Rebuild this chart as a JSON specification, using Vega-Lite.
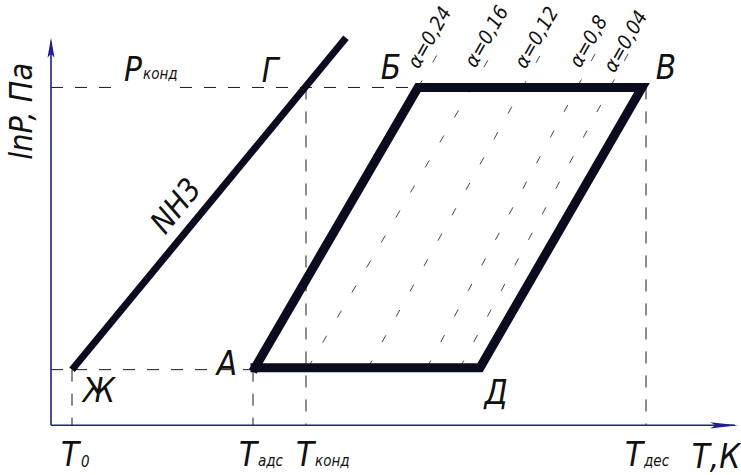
{
  "$schema": "https://vega.github.io/schema/vega-lite/v6.json",
  "width": 741,
  "height": 475,
  "autosize": {"type": "fit", "contains": "padding"},
  "padding": 0,
  "background": "white",
  "view": {"stroke": null},
  "config": {
    "text": {"font": "'DejaVu Sans Condensed', 'Liberation Sans Narrow', 'Roboto Condensed', 'DejaVu Sans', sans-serif", "fontStyle": "italic", "color": "#111111"}
  },
  "datasets": {
    "cycle": [
      {"seg": "АБВД", "i": 0, "x": 204, "y": 58},
      {"seg": "АБВД", "i": 1, "x": 367, "y": 340},
      {"seg": "АБВД", "i": 2, "x": 591, "y": 340},
      {"seg": "АБВД", "i": 3, "x": 429, "y": 58},
      {"seg": "АБВД", "i": 4, "x": 204, "y": 58}
    ],
    "nh3": [
      {"seg": "NH3", "i": 0, "x": 21, "y": 56},
      {"seg": "NH3", "i": 1, "x": 295, "y": 390}
    ],
    "guides": [
      {"seg": "Pконд-1", "i": 0, "x": 0, "y": 340},
      {"seg": "Pконд-1", "i": 1, "x": 69, "y": 340},
      {"seg": "Pконд-2", "i": 0, "x": 129, "y": 340},
      {"seg": "Pконд-2", "i": 1, "x": 367, "y": 340},
      {"seg": "P0", "i": 0, "x": 0, "y": 56},
      {"seg": "P0", "i": 1, "x": 202, "y": 56},
      {"seg": "T0", "i": 0, "x": 21, "y": 56},
      {"seg": "T0", "i": 1, "x": 21, "y": 0},
      {"seg": "Tадс", "i": 0, "x": 202, "y": 56},
      {"seg": "Tадс", "i": 1, "x": 202, "y": 0},
      {"seg": "Tконд", "i": 0, "x": 255, "y": 340},
      {"seg": "Tконд", "i": 1, "x": 255, "y": 0},
      {"seg": "Tдес", "i": 0, "x": 595, "y": 340},
      {"seg": "Tдес", "i": 1, "x": 595, "y": 0}
    ],
    "isosteres": [
      {"seg": "α=0,24", "i": 0, "x": 367, "y": 340},
      {"seg": "α=0,24", "i": 1, "x": 392, "y": 383},
      {"seg": "α=0,16", "i": 0, "x": 257, "y": 58},
      {"seg": "α=0,16", "i": 1, "x": 446, "y": 383},
      {"seg": "α=0,12", "i": 0, "x": 317, "y": 58},
      {"seg": "α=0,12", "i": 1, "x": 495, "y": 383},
      {"seg": "α=0,8", "i": 0, "x": 376, "y": 58},
      {"seg": "α=0,8", "i": 1, "x": 549, "y": 383},
      {"seg": "α=0,04", "i": 0, "x": 409, "y": 58},
      {"seg": "α=0,04", "i": 1, "x": 582, "y": 383}
    ],
    "axes": [
      {"seg": "lnP", "i": 0, "x": 0, "y": 0},
      {"seg": "lnP", "i": 1, "x": 0, "y": 386},
      {"seg": "T", "i": 0, "x": 0, "y": 0},
      {"seg": "T", "i": 1, "x": 684, "y": 0}
    ],
    "arrowUp": [{"x": 0, "y": 380}],
    "arrowRight": [{"x": 673, "y": 0}],
    "points": [
      {"label": "P", "x": 82, "y": 346},
      {"label": "Г", "x": 219, "y": 345},
      {"label": "Б", "x": 340, "y": 348},
      {"label": "В", "x": 615, "y": 348},
      {"label": "А", "x": 176, "y": 51},
      {"label": "Ж", "x": 48, "y": 23},
      {"label": "Д", "x": 445, "y": 21},
      {"label": "Т", "x": 19, "y": -41},
      {"label": "Т", "x": 197, "y": -41},
      {"label": "Т", "x": 254, "y": -41},
      {"label": "Т", "x": 583, "y": -41},
      {"label": "Т,К", "x": 665, "y": -43}
    ],
    "subscripts": [
      {"label": "конд", "x": 92, "y": 348},
      {"label": "0", "x": 30, "y": -42},
      {"label": "адс", "x": 207, "y": -41},
      {"label": "конд", "x": 264, "y": -41},
      {"label": "дес", "x": 593, "y": -41}
    ],
    "yTitle": [{"label": "lnP, Па", "x": -29, "y": 316}],
    "nh3Label": [{"label": "NH3", "x": 126, "y": 220}],
    "alphaLabels": [
      {"label": "α=0,24", "x": 379, "y": 390},
      {"label": "α=0,16", "x": 436, "y": 391},
      {"label": "α=0,12", "x": 486, "y": 390},
      {"label": "α=0,8", "x": 538, "y": 386},
      {"label": "α=0,04", "x": 575, "y": 386}
    ]
  },
  "encoding": {
    "x": {"field": "x", "type": "quantitative", "scale": {"domain": [-51, 690], "nice": false, "zero": false}, "axis": null},
    "y": {"field": "y", "type": "quantitative", "scale": {"domain": [-47, 428], "nice": false, "zero": false}, "axis": null}
  },
  "layer": [
    {
      "data": {"name": "guides"},
      "mark": {"type": "line", "stroke": "#1a1a1a", "strokeWidth": 1, "strokeDash": [12, 12]},
      "encoding": {"detail": {"field": "seg"}, "order": {"field": "i"}}
    },
    {
      "data": {"name": "isosteres"},
      "mark": {"type": "line", "stroke": "#333333", "strokeWidth": 0.9, "strokeDash": [8, 21]},
      "encoding": {"detail": {"field": "seg"}, "order": {"field": "i"}}
    },
    {
      "data": {"name": "axes"},
      "mark": {"type": "line", "stroke": "#1f1f8f", "strokeWidth": 1.6},
      "encoding": {"detail": {"field": "seg"}, "order": {"field": "i"}}
    },
    {
      "data": {"name": "arrowUp"},
      "mark": {"type": "point", "shape": "M0,-1L0.35,1L0,0.6L-0.35,1Z", "size": 400, "filled": true, "color": "#1f1f8f", "opacity": 1}
    },
    {
      "data": {"name": "arrowRight"},
      "mark": {"type": "point", "shape": "M1,0L-1,-0.22L-0.6,0L-1,0.22Z", "size": 784, "filled": true, "color": "#1f1f8f", "opacity": 1}
    },
    {
      "data": {"name": "nh3"},
      "mark": {"type": "line", "stroke": "#0b0b1e", "strokeWidth": 7, "strokeCap": "butt"},
      "encoding": {"detail": {"field": "seg"}, "order": {"field": "i"}}
    },
    {
      "data": {"name": "cycle"},
      "mark": {"type": "line", "stroke": "#0b0b1e", "strokeWidth": 9, "strokeJoin": "miter", "strokeCap": "square"},
      "encoding": {"detail": {"field": "seg"}, "order": {"field": "i"}}
    },
    {
      "data": {"name": "points"},
      "mark": {"type": "text", "fontSize": 33, "align": "center", "baseline": "alphabetic"},
      "encoding": {"text": {"field": "label"}}
    },
    {
      "data": {"name": "subscripts"},
      "mark": {"type": "text", "fontSize": 15, "align": "left", "baseline": "alphabetic"},
      "encoding": {"text": {"field": "label"}}
    },
    {
      "data": {"name": "yTitle"},
      "mark": {"type": "text", "fontSize": 32, "angle": 270, "align": "center", "baseline": "middle"},
      "encoding": {"text": {"field": "label"}}
    },
    {
      "data": {"name": "nh3Label"},
      "mark": {"type": "text", "fontSize": 31, "angle": 309, "align": "center", "baseline": "middle"},
      "encoding": {"text": {"field": "label"}}
    },
    {
      "data": {"name": "alphaLabels"},
      "mark": {"type": "text", "fontSize": 20, "angle": 300, "align": "center", "baseline": "middle"},
      "encoding": {"text": {"field": "label"}}
    }
  ]
}
